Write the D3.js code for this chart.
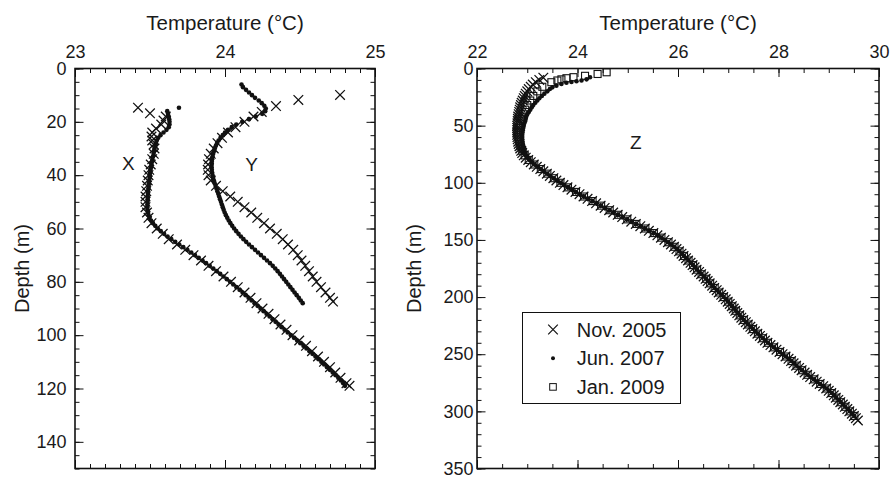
<!DOCTYPE html>
<html>
<head>
<meta charset="utf-8">
<script src="https://cdn.jsdelivr.net/npm/d3@7"></script>
<style>
  body { margin: 0; background: #fff; }
  text { font-family: "Liberation Sans", Arial, Helvetica, sans-serif; fill: #1a1a1a; }
</style>
</head>
<body>
<script>
// ---- data (depth in m, temperature in °C) ----

// left panel, profile X
const xNovDepth = [14.7, 16.8, 18, 19.5, 21, 22.5, 24, 25.5, 27, 28.5, 30, 32, 34, 36, 38, 40, 42, 44, 46, 48, 50, 52, 54, 56, 58, 60, 62, 64, 66, 68, 70, 72, 74, 76, 78, 80, 82, 84, 86, 88, 90, 92, 94, 96, 98, 100, 102, 104, 106, 108, 110, 112, 114, 116, 118, 119];
const xNovTemp = [23.42, 23.5, 23.605, 23.59, 23.575, 23.54, 23.515, 23.51, 23.515, 23.525, 23.53, 23.525, 23.515, 23.505, 23.495, 23.49, 23.485, 23.48, 23.475, 23.47, 23.47, 23.47, 23.48, 23.49, 23.51, 23.545, 23.585, 23.625, 23.68, 23.735, 23.79, 23.84, 23.89, 23.94, 23.99, 24.04, 24.085, 24.13, 24.17, 24.21, 24.25, 24.29, 24.33, 24.37, 24.41, 24.45, 24.495, 24.54, 24.58, 24.62, 24.66, 24.7, 24.735, 24.77, 24.81, 24.83];

const xJunDepth = [14.7, 16, 17, 18, 19, 20, 21, 22, 23, 24, 25, 26, 27, 28, 29, 30, 31, 32, 33, 34, 35, 36, 37, 38, 39, 40, 41, 42, 43, 44, 45, 46, 47, 48, 49, 50, 51, 52, 53, 54, 55, 56, 57, 58, 59, 60, 61, 62, 63, 64, 65, 66, 67, 68, 69, 70, 71, 72, 73, 74, 75, 76, 77, 78, 79, 80, 81, 82, 83, 84, 85, 86, 87, 88, 89, 90, 91, 92, 93, 94, 95, 96, 97, 98, 99, 100, 101, 102, 103, 104, 105, 106, 107, 108, 109, 110, 111, 112, 113, 114, 115, 116, 117, 118, 119];
const xJunTemp = [23.693, 23.615, 23.62, 23.625, 23.628, 23.63, 23.63, 23.625, 23.61, 23.59, 23.57, 23.555, 23.545, 23.54, 23.535, 23.53, 23.527, 23.524, 23.52, 23.516, 23.513, 23.51, 23.507, 23.504, 23.501, 23.499, 23.497, 23.495, 23.493, 23.491, 23.489, 23.487, 23.486, 23.485, 23.484, 23.483, 23.482, 23.482, 23.483, 23.486, 23.49, 23.497, 23.507, 23.52, 23.535, 23.552, 23.572, 23.594, 23.617, 23.642, 23.668, 23.695, 23.722, 23.749, 23.775, 23.8, 23.825, 23.85, 23.874, 23.898, 23.922, 23.945, 23.968, 23.99, 24.012, 24.034, 24.055, 24.076, 24.097, 24.117, 24.137, 24.157, 24.177, 24.197, 24.217, 24.237, 24.257, 24.277, 24.297, 24.317, 24.337, 24.357, 24.377, 24.397, 24.418, 24.439, 24.46, 24.481, 24.502, 24.523, 24.543, 24.563, 24.583, 24.603, 24.623, 24.642, 24.661, 24.68, 24.699, 24.718, 24.737, 24.755, 24.772, 24.788, 24.8];

// left panel, profile Y
const yNovDepth = [9.9, 11.8, 14.1, 16.3, 18, 20, 22, 24, 26, 28, 30, 32, 34, 36, 38, 40, 42, 44, 46, 48, 50, 52, 54, 56, 58, 60, 62, 64, 66, 68, 70, 72, 74, 76, 78, 80, 82, 84, 86, 87.4];
const yNovTemp = [24.767, 24.489, 24.34, 24.245, 24.19, 24.13, 24.07, 24.02, 23.98, 23.95, 23.925, 23.905, 23.893, 23.887, 23.885, 23.89, 23.905, 23.94, 23.985, 24.035, 24.085, 24.13, 24.175, 24.215, 24.26, 24.3, 24.345, 24.385, 24.42, 24.455, 24.485, 24.51, 24.535, 24.56, 24.585, 24.61, 24.64, 24.67, 24.7, 24.72];

const yJunDepth = [6, 7, 8, 9, 10, 11, 12, 13, 14, 15, 16, 17, 18, 19, 20, 21, 22, 23, 24, 25, 26, 27, 28, 29, 30, 31, 32, 33, 34, 35, 36, 37, 38, 39, 40, 41, 42, 43, 44, 45, 46, 47, 48, 49, 50, 51, 52, 53, 54, 55, 56, 57, 58, 59, 60, 61, 62, 63, 64, 65, 66, 67, 68, 69, 70, 71, 72, 73, 74, 75, 76, 77, 78, 79, 80, 81, 82, 83, 84, 85, 86, 87, 88];
const yJunTemp = [24.11, 24.12, 24.14, 24.16, 24.18, 24.2, 24.225, 24.245, 24.262, 24.272, 24.268, 24.248, 24.205, 24.16, 24.115, 24.075, 24.045, 24.02, 24.0, 23.985, 23.97, 23.957, 23.947, 23.939, 23.932, 23.926, 23.921, 23.917, 23.914, 23.912, 23.911, 23.911, 23.912, 23.914, 23.917, 23.921, 23.926, 23.931, 23.937, 23.943, 23.949, 23.955, 23.961, 23.967, 23.973, 23.979, 23.985, 23.991, 23.998, 24.006, 24.015, 24.025, 24.036, 24.048, 24.061, 24.075, 24.09, 24.106, 24.123, 24.141, 24.16, 24.18, 24.2, 24.22, 24.24, 24.26, 24.28, 24.3, 24.318, 24.335, 24.351, 24.366, 24.38, 24.394, 24.408, 24.422, 24.436, 24.45, 24.464, 24.478, 24.492, 24.505, 24.518];

// right panel, profile Z
const zNovDepth = [8, 10, 12, 14, 16, 18, 20, 22, 24, 26, 28, 30, 32, 34, 36, 38, 40, 42, 44, 46, 48, 50, 52, 54, 56, 58, 60, 62, 64, 66, 68, 70, 72, 74, 76, 78, 80, 82, 84, 86, 88, 90, 92, 94, 96, 98, 100, 102, 104, 106, 108, 110, 112, 114, 116, 118, 120, 122, 124, 126, 128, 130, 132, 134, 136, 138, 140, 142, 144, 146, 148, 150, 152, 154, 156, 158, 160, 162, 164, 166, 168, 170, 172, 174, 176, 178, 180, 182, 184, 186, 188, 190, 192, 194, 196, 198, 200, 202, 204, 206, 208, 210, 212, 214, 216, 218, 220, 222, 224, 226, 228, 230, 232, 234, 236, 238, 240, 242, 244, 246, 248, 250, 252, 254, 256, 258, 260, 262, 264, 266, 268, 270, 272, 274, 276, 278, 280, 282, 284, 286, 288, 290, 292, 294, 296, 298, 300, 302, 304, 306, 308];
const zNovTemp = [23.32, 23.24, 23.17, 23.11, 23.07, 23.03, 23.0, 22.97, 22.95, 22.93, 22.91, 22.89, 22.875, 22.86, 22.85, 22.84, 22.83, 22.82, 22.815, 22.81, 22.805, 22.8, 22.8, 22.8, 22.8, 22.8, 22.805, 22.81, 22.82, 22.83, 22.845, 22.86, 22.88, 22.9, 22.93, 22.97, 23.02, 23.07, 23.13, 23.19, 23.26, 23.32, 23.39, 23.45, 23.52, 23.58, 23.65, 23.72, 23.8, 23.88, 23.96, 24.04, 24.12, 24.2, 24.29, 24.37, 24.46, 24.54, 24.63, 24.71, 24.8, 24.89, 24.98, 25.07, 25.16, 25.25, 25.34, 25.42, 25.51, 25.59, 25.66, 25.73, 25.8, 25.86, 25.92, 25.97, 26.02, 26.07, 26.11, 26.16, 26.2, 26.25, 26.29, 26.33, 26.37, 26.42, 26.46, 26.51, 26.55, 26.59, 26.63, 26.68, 26.72, 26.77, 26.81, 26.86, 26.9, 26.95, 26.99, 27.03, 27.07, 27.11, 27.14, 27.18, 27.22, 27.26, 27.3, 27.35, 27.39, 27.44, 27.48, 27.53, 27.58, 27.63, 27.68, 27.73, 27.78, 27.84, 27.9, 27.96, 28.02, 28.08, 28.14, 28.2, 28.25, 28.3, 28.35, 28.41, 28.46, 28.52, 28.57, 28.63, 28.7, 28.76, 28.82, 28.89, 28.95, 29.0, 29.05, 29.1, 29.14, 29.19, 29.23, 29.28, 29.32, 29.37, 29.41, 29.46, 29.5, 29.54, 29.58];

const zJunDepth = [7.7, 9.5, 10.5, 11.2, 11.8, 12.5, 13.5, 15, 16.5, 18, 20, 22, 24, 26, 28, 30, 32, 34, 36, 38, 40, 42, 44, 46, 48, 50, 52, 54, 56, 58, 60, 62, 64, 66, 68, 70, 72, 74, 76, 78, 80, 82, 84, 86, 88, 90, 92, 94, 96, 98, 100, 102, 104, 106, 108, 110, 112, 114, 116, 118, 120, 122, 124, 126, 128, 130, 132, 134, 136, 138, 140, 142, 144, 146, 148, 150, 152, 154, 156, 158, 160, 162, 164, 166, 168, 170, 172, 174, 176, 178, 180, 182, 184, 186, 188, 190, 192, 194, 196, 198, 200, 202, 204, 206, 208, 210, 212, 214, 216, 218, 220, 222, 224, 226, 228, 230, 232, 234, 236, 238, 240, 242, 244, 246, 248, 250, 252, 254, 256, 258, 260, 262, 264, 266, 268, 270, 272, 274, 276, 278, 280, 282, 284, 286, 288, 290, 292, 294, 296, 298, 300, 302, 304];
const zJunTemp = [24.25, 24.18, 24.08, 23.98, 23.88, 23.78, 23.68, 23.58, 23.5, 23.45, 23.4, 23.34, 23.29, 23.24, 23.2, 23.16, 23.12, 23.09, 23.06, 23.03, 23.0, 22.98, 22.97, 22.96, 22.94, 22.93, 22.92, 22.91, 22.905, 22.9, 22.9, 22.9, 22.905, 22.91, 22.92, 22.93, 22.945, 22.96, 22.98, 23.01, 23.05, 23.1, 23.15, 23.21, 23.27, 23.33, 23.4, 23.46, 23.53, 23.6, 23.67, 23.74, 23.82, 23.9, 23.97, 24.05, 24.13, 24.21, 24.3, 24.38, 24.47, 24.55, 24.64, 24.72, 24.81, 24.9, 24.99, 25.08, 25.17, 25.26, 25.35, 25.43, 25.52, 25.6, 25.67, 25.74, 25.81, 25.87, 25.93, 25.98, 26.03, 26.08, 26.12, 26.17, 26.21, 26.26, 26.3, 26.34, 26.38, 26.43, 26.47, 26.52, 26.56, 26.6, 26.64, 26.69, 26.73, 26.78, 26.82, 26.87, 26.91, 26.96, 27.0, 27.04, 27.08, 27.12, 27.15, 27.19, 27.23, 27.27, 27.31, 27.36, 27.4, 27.45, 27.49, 27.54, 27.59, 27.64, 27.69, 27.74, 27.79, 27.85, 27.91, 27.97, 28.03, 28.09, 28.15, 28.21, 28.26, 28.31, 28.36, 28.42, 28.47, 28.53, 28.58, 28.64, 28.71, 28.77, 28.83, 28.9, 28.96, 29.01, 29.06, 29.11, 29.15, 29.2, 29.24, 29.29, 29.33, 29.38, 29.42, 29.47, 29.51];

const zJanDepth = [3.3, 4.8, 6.4, 7.6, 8.5, 9.5, 10.5, 12, 16, 20, 24, 28, 32, 36, 40, 44, 48, 52, 56, 60, 64, 68, 72, 76, 80, 84, 88, 92, 96, 100, 104, 108, 112, 116, 120, 124, 128, 132, 136, 140, 144, 148, 152, 156, 160, 164, 168, 172, 176, 180, 184, 188, 192, 196, 200, 204, 208, 212, 216, 220, 224, 228, 232, 236, 240, 244, 248, 252, 256, 260, 264, 268, 272, 276, 280, 284, 288, 292, 296, 300, 304];
const zJanTemp = [24.58, 24.4, 24.15, 23.92, 23.78, 23.68, 23.6, 23.48, 23.3, 23.2, 23.12, 23.06, 23.0, 22.96, 22.92, 22.89, 22.86, 22.84, 22.83, 22.83, 22.84, 22.86, 22.9, 22.95, 23.03, 23.14, 23.27, 23.4, 23.53, 23.66, 23.81, 23.97, 24.13, 24.3, 24.47, 24.64, 24.81, 24.99, 25.17, 25.35, 25.52, 25.67, 25.81, 25.93, 26.03, 26.12, 26.21, 26.3, 26.38, 26.47, 26.56, 26.64, 26.73, 26.82, 26.91, 27.0, 27.08, 27.15, 27.23, 27.31, 27.4, 27.49, 27.59, 27.69, 27.79, 27.91, 28.03, 28.15, 28.26, 28.36, 28.47, 28.58, 28.71, 28.83, 28.96, 29.06, 29.15, 29.24, 29.33, 29.42, 29.51];

// ticks and labels
const leftTempTicks = [23, 24, 25];
const leftDepthTicks = [0, 20, 40, 60, 80, 100, 120, 140];
const rightTempTicks = [22, 24, 26, 28, 30];
const rightDepthTicks = [0, 50, 100, 150, 200, 250, 300, 350];
const legendLabels = ["Nov. 2005", "Jun. 2007", "Jan. 2009"];

// ---- drawing ----
const W = 890, H = 477;
const svg = d3.select("body").append("svg").attr("width", W).attr("height", H);

const ink = "#111";
const crossPath = d3.symbol(d3.symbolTimes).size(62)();

const pairs = (ds, ts) => ds.map((d, i) => [ts[i], d]);

function drawPanel(x, y, o) {
  const g = svg.append("g");
  const [x0, x1] = x.range();
  const [y0, y1] = y.range();

  const axis = (gen, pos, vals, size, labels, pad) => {
    const a = g.append("g")
      .attr("transform", pos)
      .call(gen.tickValues(vals).tickSize(-size).tickPadding(pad)
        .tickFormat(labels ? d3.format("d") : ""));
    a.select(".domain").remove();
    a.attr("font-size", 18).attr("font-family", null);
    a.selectAll("line").attr("stroke", ink).attr("stroke-width", 1);
    return a;
  };

  // minor ticks all round
  axis(d3.axisTop(x), `translate(0,${y0})`, o.xMinor, 4.5, false, 0);
  axis(d3.axisBottom(x), `translate(0,${y1})`, o.xMinor, 4.5, false, 0);
  axis(d3.axisLeft(y), `translate(${x0},0)`, o.yMinor, 4.5, false, 0);
  axis(d3.axisRight(y), `translate(${x1},0)`, o.yMinor, 4.5, false, 0);
  // major ticks, labelled on top and left
  axis(d3.axisTop(x), `translate(0,${y0})`, o.xTicks, 8.5, true, 11);
  axis(d3.axisBottom(x), `translate(0,${y1})`, o.xTicks, 8.5, false, 0);
  axis(d3.axisLeft(y), `translate(${x0},0)`, o.yTicks, 8.5, true, o.yPad);
  axis(d3.axisRight(y), `translate(${x1},0)`, o.yTicks, 8.5, false, 0);

  g.append("rect")
    .attr("x", x0).attr("y", y0)
    .attr("width", x1 - x0).attr("height", y1 - y0)
    .attr("fill", "none").attr("stroke", ink).attr("stroke-width", 1.6);

  g.append("text")
    .attr("x", (x0 + x1) / 2).attr("y", 29.5)
    .attr("text-anchor", "middle").attr("font-size", 20.5)
    .text("Temperature (°C)");

  g.append("text")
    .attr("transform", `translate(${o.depthX},${(y0 + y1) / 2}) rotate(-90)`)
    .attr("text-anchor", "middle").attr("font-size", 20)
    .text("Depth (m)");

  const marks = g.append("g");
  o.crosses.forEach(s => {
    marks.append("g").selectAll("path").data(s).join("path")
      .attr("d", crossPath)
      .attr("transform", d => `translate(${x(d[0])},${y(d[1])})`)
      .attr("fill", "none").attr("stroke", ink).attr("stroke-width", 1.25);
  });
  o.dots.forEach(s => {
    marks.append("g").selectAll("circle").data(s).join("circle")
      .attr("cx", d => x(d[0])).attr("cy", d => y(d[1]))
      .attr("r", 2.3).attr("fill", ink);
  });
  (o.squares || []).forEach(s => {
    marks.append("g").selectAll("rect").data(s).join("rect")
      .attr("x", d => x(d[0]) - 3.5).attr("y", d => y(d[1]) - 3.5)
      .attr("width", 7).attr("height", 7)
      .attr("fill", "none").attr("stroke", ink).attr("stroke-width", 1.1);
  });

  o.names.forEach(n => {
    g.append("text")
      .attr("x", x(n.t)).attr("y", y(n.d))
      .attr("text-anchor", "middle").attr("font-size", 19)
      .text(n.label);
  });
  return g;
}

// left panel: profiles X and Y
const xL = d3.scaleLinear().domain([23, 25]).range([75, 375]);
const yL = d3.scaleLinear().domain([0, 150]).range([68.5, 468.5]);
drawPanel(xL, yL, {
  xTicks: leftTempTicks,
  xMinor: d3.range(23, 25.001, 0.1),
  yTicks: leftDepthTicks,
  yMinor: d3.range(0, 150.1, 5),
  yPad: 8.5,
  depthX: 29,
  crosses: [pairs(xNovDepth, xNovTemp), pairs(yNovDepth, yNovTemp)],
  dots: [pairs(xJunDepth, xJunTemp), pairs(yJunDepth, yJunTemp)],
  names: [{label: "X", t: 23.356, d: 37.9}, {label: "Y", t: 24.178, d: 38.4}]
});

// right panel: profile Z
const xR = d3.scaleLinear().domain([22, 30]).range([477, 879]);
const yR = d3.scaleLinear().domain([0, 350]).range([68.5, 468.5]);
const right = drawPanel(xR, yR, {
  xTicks: rightTempTicks,
  xMinor: d3.range(22, 30.001, 0.5),
  yTicks: rightDepthTicks,
  yMinor: d3.range(0, 350.1, 10),
  yPad: 3.5,
  depthX: 421,
  crosses: [pairs(zNovDepth, zNovTemp)],
  dots: [pairs(zJunDepth, zJunTemp)],
  squares: [pairs(zJanDepth, zJanTemp)],
  names: [{label: "Z", t: 25.16, d: 70}]
});

// legend
const lg = right.append("g").attr("transform", "translate(522.5,312.5)");
lg.append("rect").attr("width", 158).attr("height", 91)
  .attr("fill", "#fff").attr("stroke", ink).attr("stroke-width", 1);
legendLabels.forEach((lab, i) => {
  const row = lg.append("g").attr("transform", `translate(30.5,${17 + i * 28.7})`);
  if (i === 0) row.append("path").attr("d", crossPath)
    .attr("fill", "none").attr("stroke", ink).attr("stroke-width", 1.2);
  if (i === 1) row.append("circle").attr("r", 2).attr("fill", ink);
  if (i === 2) row.append("rect").attr("x", -3.3).attr("y", -3.3)
    .attr("width", 6.6).attr("height", 6.6)
    .attr("fill", "none").attr("stroke", ink).attr("stroke-width", 1);
  row.append("text").attr("x", 23.7).attr("y", 7).attr("font-size", 20).text(lab);
});
</script>
</body>
</html>
